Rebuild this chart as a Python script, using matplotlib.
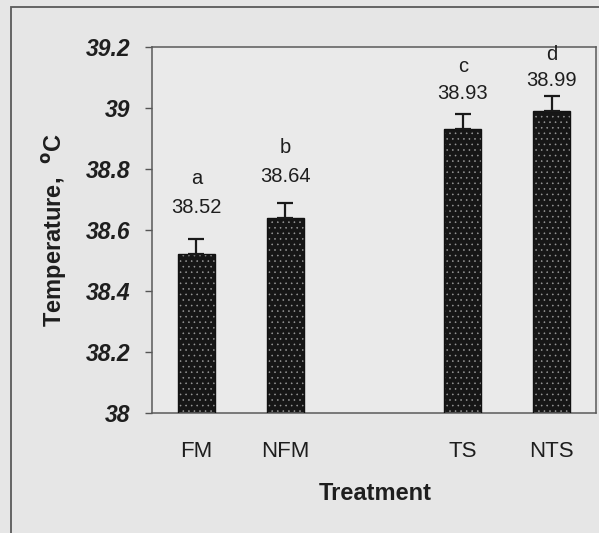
import matplotlib
matplotlib.use("Agg")
import matplotlib.pyplot as plt
import matplotlib.patches as patches

# Data.
treatments = ["FM", "NFM", "TS", "NTS"]
positions = [0, 1, 3, 4]
temperatures = [38.52, 38.64, 38.93, 38.99]
errors = [0.05, 0.05, 0.05, 0.05]
letters = ["a", "b", "c", "d"]
y_ticks = [38.0, 38.2, 38.4, 38.6, 38.8, 39.0, 39.2]
y_tick_labels = ["38", "38.2", "38.4", "38.6", "38.8", "39", "39.2"]

# Label heights (data units) as placed in the original.
number_y = [38.656, 38.757, 39.030, 39.072]
letter_y = [38.751, 38.852, 39.118, 39.157]

plt.rcParams["font.family"] = ["Liberation Sans", "DejaVu Sans"]
plt.rcParams["hatch.linewidth"] = 0.4

bg = "#e6e6e6"
figure = plt.figure(figsize=(5.99, 5.33), dpi=100, facecolor=bg)
ax = figure.add_axes([152 / 599, 1 - 413 / 533, 444 / 599, 366 / 533])
ax.set_facecolor("#eaeaea")

# Outer frame (runs off right/bottom edge).
frame = patches.Rectangle(
    (11 / 599, -0.1), 1.2, 1.1 - 7 / 533,
    transform=figure.transFigure, fill=False,
    edgecolor="#5a5a5a", linewidth=1.3, zorder=0,
)
figure.patches.append(frame)

# Bars: dark fill with light dots, then outline.
ax.bar(positions, temperatures, width=0.42, color="#161616",
       edgecolor="#9a9a9a", hatch="...", linewidth=0, zorder=2)
ax.bar(positions, temperatures, width=0.42, fill=False,
       edgecolor="#111111", linewidth=1.0, zorder=3)
ax.errorbar(positions, temperatures, yerr=[[0] * 4, errors], fmt="none",
            ecolor="#1a1a1a", elinewidth=1.6, capsize=5.5, capthick=1.6,
            zorder=4)

for x, num_y, let_y, value, letter in zip(positions, number_y, letter_y,
                                         temperatures, letters):
    ax.text(x, num_y, "%.2f" % value, ha="center", va="baseline",
            fontsize=14.5, color="#1e1e1e", zorder=5)
    ax.text(x, let_y, letter, ha="center", va="baseline",
            fontsize=14.5, color="#1e1e1e", zorder=5, clip_on=False)

ax.set_xlim(-0.5, 4.5)
ax.set_ylim(38, 39.2)
ax.set_yticks(y_ticks)
ax.set_yticklabels(y_tick_labels, fontsize=16.5, fontweight="bold",
                   fontstyle="italic", color="#1e1e1e")
ax.set_xticks(positions)
ax.set_xticklabels(treatments, fontsize=16, color="#1e1e1e")
ax.tick_params(axis="y", length=5, width=1, color="#555555", pad=10.5)
ax.tick_params(axis="x", length=0, pad=20)

for spine in ax.spines.values():
    spine.set_color("#5a5a5a")
    spine.set_linewidth(1.1)

figure.text(375 / 599, 1 - 493 / 533, "Treatment", ha="center",
            va="center", fontsize=17, fontweight="bold", color="#1e1e1e")
figure.text(55 / 599, 1 - 230 / 533, r"Temperature,  $^{\mathbf{o}}$C",
            ha="center", va="center", rotation=90, fontsize=17,
            fontweight="bold", color="#1e1e1e")

figure.savefig("out.png", dpi=100, facecolor=bg)
